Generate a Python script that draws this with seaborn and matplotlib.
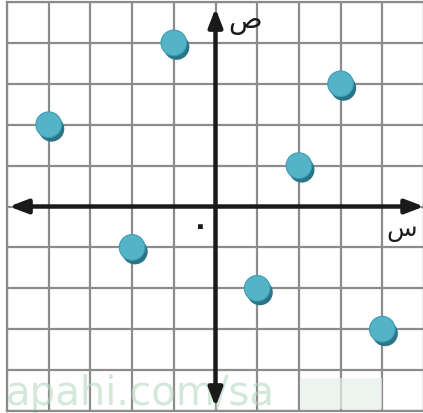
import matplotlib
matplotlib.use("Agg")
import matplotlib.pyplot as plt
import matplotlib.patheffects as pe
import seaborn as sns
import pandas as pd
import numpy as np

# Data
x_vals = [-4, -1, 3, 2, -2, 1, 4]
y_vals = [2, 4, 3, 1, -1, -2, -3]
x_label = "س"
y_label = "ص"
origin_label = "٠"

df = pd.DataFrame({"x": x_vals, "y": y_vals})

sns.set_style("white")
plt.rcParams['font.family'] = ['DejaVu Sans']

fig = plt.figure(figsize=(4.23, 4.14), dpi=100)
ax = fig.add_axes([7/423, 2/414, 417/423, 409/414])

ax.set_xlim(-5, 5)
ax.set_ylim(-5, 5)
ax.set_xticks(np.arange(-5, 6, 1))
ax.set_yticks(np.arange(-5, 6, 1))
ax.tick_params(length=0, labelbottom=False, labelleft=False)
ax.grid(True, color="#8c8c8c", linewidth=1.6)
for s in ax.spines.values():
    s.set_color("#8c8c8c")
    s.set_linewidth(1.6)

# watermark
ax.add_patch(plt.Rectangle((2.05, -4.95), 1.95, 0.75, color="#e6efe8", alpha=0.7, zorder=1, lw=0))
ax.text(-5.03, -5.05, "apahi.com/sa", fontsize=29, color="#b8d8c4", alpha=0.6,
        ha="left", va="bottom", zorder=1, family="DejaVu Sans")

# axes arrows
ax.annotate("", xy=(5.0, 0), xytext=(-4.95, 0),
            arrowprops=dict(arrowstyle="<|-|>,head_length=1.1,head_width=0.42",
                            color="#1a1a1a", lw=3.2, shrinkA=0, shrinkB=0), zorder=3)
ax.annotate("", xy=(0, 4.85), xytext=(0, -4.9),
            arrowprops=dict(arrowstyle="<|-|>,head_length=1.1,head_width=0.42",
                            color="#1a1a1a", lw=3.2, shrinkA=0, shrinkB=0), zorder=3)

ax.text(0.3, 4.55, y_label, fontsize=20, color="#1a1a1a", ha="left", va="center", zorder=4)
ax.text(4.1, -0.55, x_label, fontsize=18, color="#1a1a1a", ha="left", va="center", zorder=4)
ax.text(-0.37, -0.45, origin_label, fontsize=20, fontweight="bold", color="#1a1a1a",
        ha="center", va="center", zorder=4)

sns.scatterplot(data=df, x="x", y="y", ax=ax, s=340, color="#55b3c8",
                edgecolor="#3e9db3", linewidth=0.8, zorder=5, legend=False,
                path_effects=[pe.SimplePatchShadow(offset=(2, -3), shadow_rgbFace="#2b7487", alpha=1.0),
                              pe.Normal()])
ax.set_xlabel("")
ax.set_ylabel("")

fig.savefig("out.png", dpi=100)
